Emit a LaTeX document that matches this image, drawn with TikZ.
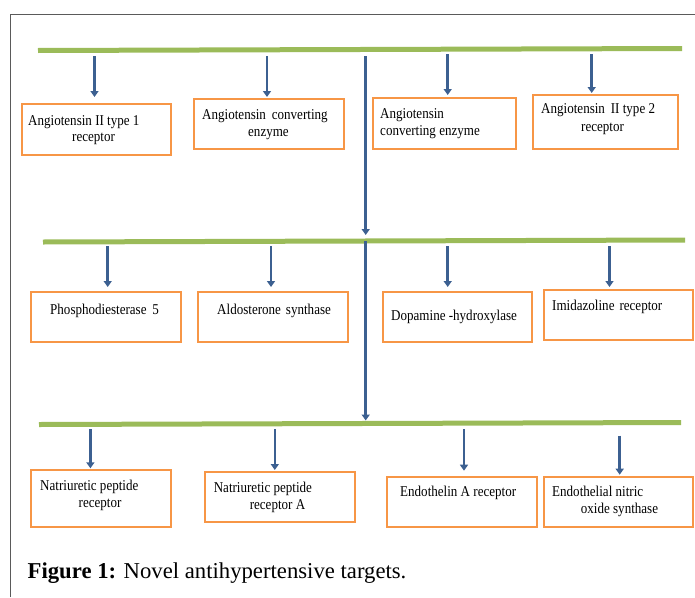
\documentclass[tikz,border=0pt]{standalone}
\usepackage{fontspec}
\setmainfont{Liberation Serif}
\usetikzlibrary{arrows.meta}
\definecolor{lgreen}{RGB}{155,187,89}
\definecolor{abluec}{RGB}{60,96,145}
\definecolor{borange}{RGB}{247,150,70}
\definecolor{frameg}{RGB}{90,90,90}
\newcommand{\sqtxt}[1]{\scalebox{0.87}[1]{#1}}
\begin{document}
\begin{tikzpicture}[x=1pt,y=-1pt,
  bar/.style={line width=5pt, draw=lgreen},
  arr/.style={line width=2.6pt, draw=abluec, -{Triangle[width=8pt,length=6pt]}},
  box/.style={draw=borange, line width=2pt, inner sep=0pt, anchor=north west},
  lbl/.style={font=\fontsize{15}{18}\selectfont, inner sep=0pt, anchor=base west}]
\useasboundingbox (0,0) rectangle (695,597);
\draw[frameg, line width=1pt] (10,597) -- (10,14) -- (695,14);

% green bars
\draw[bar] (38,50.5) coordinate (g1l) -- (682,48.5) coordinate (g1r);
\draw[bar] (43,242) coordinate (g2l) -- (685,240) coordinate (g2r);
\draw[bar] (39,424.5) coordinate (g3l) -- (681,422.5) coordinate (g3r);

% boxes row 1
\node[box, minimum width=149.4pt, minimum height=51pt] (b1) at (20.8,103) {};
\node[box, minimum width=149.8pt, minimum height=50pt] (b2) at (192.8,98) {};
\node[box, minimum width=143pt, minimum height=51pt] (b3) at (372,97) {};
\node[box, minimum width=145pt, minimum height=54pt] (b4) at (532,94) {};
% boxes row 2
\node[box, minimum width=149.8pt, minimum height=50pt] (b5) at (29.7,291) {};
\node[box, minimum width=150pt, minimum height=50pt] (b6) at (197,291) {};
\node[box, minimum width=149pt, minimum height=50pt] (b7) at (381.6,291) {};
\node[box, minimum width=149.8pt, minimum height=49.7pt] (b8) at (542.6,289) {};
% boxes row 3
\node[box, minimum width=140pt, minimum height=56.7pt] (b9) at (29.7,469.3) {};
\node[box, minimum width=150pt, minimum height=50.3pt] (b10) at (204,471) {};
\node[box, minimum width=149.5pt, minimum height=50.3pt] (b11) at (386,475.7) {};
\node[box, minimum width=149.8pt, minimum height=50.3pt] (b12) at (542.6,475.7) {};

% labels
\node[lbl] (t1a) at (28,125.5) {\sqtxt{Angiotensin II type 1}};
\node[lbl] (t1b) at (72,141.5) {\sqtxt{receptor}};
\node[lbl] (t2a) at (202,119) {\sqtxt{Angiotensin\hspace{3pt} converting}};
\node[lbl] (t2b) at (248,136) {\sqtxt{enzyme}};
\node[lbl] (t3a) at (380,118) {\sqtxt{Angiotensin}};
\node[lbl] (t3b) at (380,135) {\sqtxt{converting enzyme}};
\node[lbl] (t4a) at (541,113) {\sqtxt{Angiotensin\hspace{3pt} II type 2}};
\node[lbl] (t4b) at (581,131) {\sqtxt{receptor}};
\node[lbl] (t5) at (50,314) {\sqtxt{Phosphodiesterase\hspace{3pt} 5}};
\node[lbl] (t6) at (217,314) {\sqtxt{Aldosterone\hspace{2pt} synthase}};
\node[lbl] (t7) at (391,320.5) {\sqtxt{Dopamine -hydroxylase}};
\node[lbl] (t8) at (552,310.5) {\sqtxt{Imidazoline\hspace{2pt} receptor}};
\node[lbl] (t9a) at (40,490.5) {\sqtxt{Natriuretic peptide}};
\node[lbl] (t9b) at (78.5,507) {\sqtxt{receptor}};
\node[lbl] (t10a) at (213.6,492) {\sqtxt{Natriuretic peptide}};
\node[lbl] (t10b) at (249.6,509.5) {\sqtxt{receptor A}};
\node[lbl] (t11) at (400,496) {\sqtxt{Endothelin A receptor}};
\node[lbl] (t12a) at (552,496) {\sqtxt{Endothelial nitric}};
\node[lbl] (t12b) at (580.7,513) {\sqtxt{oxide synthase}};

% arrow start coordinates
\coordinate (s1) at (94.5,56);
\coordinate (s2) at (267,56);
\coordinate (s3) at (447.7,54);
\coordinate (s4) at (591.7,54);
\coordinate (s5) at (107.7,246);
\coordinate (s6) at (271,246);
\coordinate (s7) at (447.7,246);
\coordinate (s8) at (609.5,246);
\coordinate (s9) at (90.4,429);
\coordinate (s10) at (274.8,429);
\coordinate (s11) at (464,429);
\coordinate (s12) at (619.7,435.7);
\coordinate (c1) at (365.7,56);
\coordinate (c2) at (365.7,241);

% arrows
\draw[arr, shorten >=6pt] (s1) -- (s1 |- b1.north);
\draw[arr, shorten >=1pt] (s2) -- (s2 |- b2.north);
\draw[arr, shorten >=2pt] (s3) -- (s3 |- b3.north);
\draw[arr, shorten >=1pt] (s4) -- (s4 |- b4.north);
\draw[arr, shorten >=4pt] (s5) -- (s5 |- b5.north);
\draw[arr, shorten >=4pt] (s6) -- (s6 |- b6.north);
\draw[arr, shorten >=4pt] (s7) -- (s7 |- b7.north);
\draw[arr, shorten >=2pt] (s8) -- (s8 |- b8.north);
\draw[arr, shorten >=1pt] (s9) -- (s9 |- b9.north);
\draw[arr, shorten >=1pt] (s10) -- (s10 |- b10.north);
\draw[arr, shorten >=5pt] (s11) -- (s11 |- b11.north);
\draw[arr, shorten >=1pt] (s12) -- (s12 |- b12.north);
\draw[arr, shorten >=7pt] (c1) -- (c1 |- g2l);
\draw[arr, shorten >=4pt] (c2) -- (c2 |- g3l);

% caption
\node[anchor=base west, inner sep=0pt, font=\fontsize{22.7}{27}\selectfont] (cap) at (27.5,578) {\textbf{Figure 1:} Novel antihypertensive targets.};
\end{tikzpicture}
\end{document}
